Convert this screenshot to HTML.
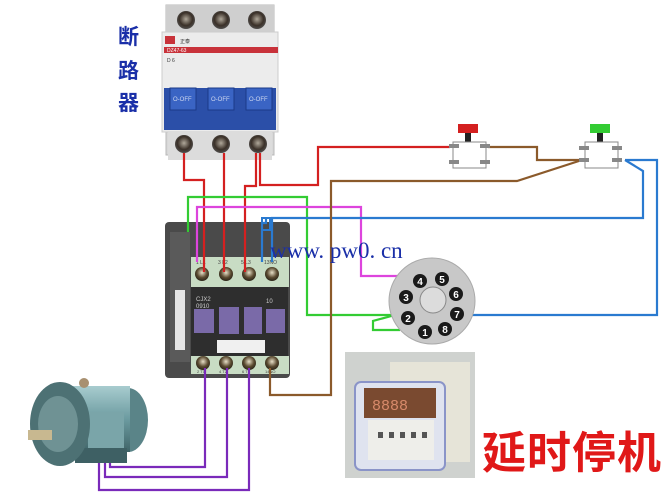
<!DOCTYPE html>
<html><head><meta charset="utf-8"><style>
html,body{margin:0;padding:0;background:#fff;}
svg{display:block;}
</style></head><body>
<svg width="670" height="502" viewBox="0 0 670 502" xmlns="http://www.w3.org/2000/svg">
<defs>
<radialGradient id="screw" cx="50%" cy="40%" r="60%"><stop offset="0" stop-color="#e8e0c8"/><stop offset="0.6" stop-color="#5a4a30"/><stop offset="1" stop-color="#2a2418"/></radialGradient>
<radialGradient id="bscrew" cx="50%" cy="45%" r="60%"><stop offset="0" stop-color="#b0a89a"/><stop offset="0.6" stop-color="#3a3028"/><stop offset="1" stop-color="#555"/></radialGradient>
<linearGradient id="motor" x1="0" y1="0" x2="0" y2="1"><stop offset="0" stop-color="#a8cccf"/><stop offset="0.5" stop-color="#6c9ba0"/><stop offset="1" stop-color="#3f6468"/></linearGradient>
</defs>

<g font-family="Liberation Sans, Noto Sans CJK SC, sans-serif" font-weight="bold" font-size="21" fill="#1a2fa8">
<text x="118" y="44">断</text><text x="118" y="78">路</text><text x="118" y="110">器</text>
</g>

<rect x="166" y="5" width="108" height="150" fill="#d8d8d8" stroke="#b8b8b8"/>
<rect x="166" y="5" width="108" height="28" fill="#cfcfcf"/>
<circle cx="186" cy="20" r="9" fill="url(#bscrew)"/><circle cx="221" cy="20" r="9" fill="url(#bscrew)"/><circle cx="257" cy="20" r="9" fill="url(#bscrew)"/>
<rect x="162" y="32" width="116" height="100" fill="#ececec" stroke="#ccc"/>
<rect x="164" y="47" width="114" height="6" fill="#c8323a"/>
<rect x="165" y="36" width="10" height="8" fill="#c8323a"/>
<text x="180" y="43" font-size="5" fill="#333" font-family="Liberation Sans, Noto Sans CJK SC, sans-serif">正泰</text>
<text x="167" y="52" font-size="5" fill="#fff" font-family="Liberation Sans, sans-serif">DZ47-63</text>
<text x="167" y="62" font-size="5" fill="#333" font-family="Liberation Sans, sans-serif">D 6</text>
<rect x="164" y="88" width="112" height="42" fill="#2b4fa8"/>
<rect x="170" y="88" width="26" height="22" fill="#3a64c4" stroke="#1b3a88"/>
<rect x="208" y="88" width="26" height="22" fill="#3a64c4" stroke="#1b3a88"/>
<rect x="246" y="88" width="26" height="22" fill="#3a64c4" stroke="#1b3a88"/>
<g font-size="6" fill="#cfd8f0" font-family="Liberation Sans, sans-serif"><text x="173" y="101">O-OFF</text><text x="211" y="101">O-OFF</text><text x="249" y="101">O-OFF</text></g>
<rect x="168" y="132" width="104" height="28" fill="#dcdcdc"/>
<circle cx="184" cy="144" r="9" fill="url(#bscrew)"/><circle cx="221" cy="144" r="9" fill="url(#bscrew)"/><circle cx="258" cy="144" r="9" fill="url(#bscrew)"/>

<rect x="165" y="222" width="125" height="156" rx="4" fill="#4a4a4a"/>
<rect x="170" y="232" width="20" height="130" fill="#5a5a5a"/>
<rect x="175" y="290" width="10" height="60" fill="#e8e8e8"/>
<rect x="191" y="257" width="98" height="30" fill="#c8dcc4"/>
<g font-size="5" fill="#444" font-family="Liberation Sans, sans-serif"><text x="196" y="264">1 L1</text><text x="218" y="264">3 L2</text><text x="241" y="264">5 L3</text><text x="264" y="264">13NO</text></g>
<circle cx="202" cy="274" r="7" fill="url(#screw)"/><circle cx="226" cy="274" r="7" fill="url(#screw)"/><circle cx="249" cy="274" r="7" fill="url(#screw)"/><circle cx="272" cy="274" r="7" fill="url(#screw)"/>
<rect x="191" y="287" width="97" height="69" fill="#2e2e2e"/>
<text x="196" y="301" font-size="6" fill="#ccc" font-family="Liberation Sans, sans-serif">CJX2</text>
<text x="196" y="308" font-size="6" fill="#ccc" font-family="Liberation Sans, sans-serif">0910</text>
<text x="266" y="303" font-size="6" fill="#ccc" font-family="Liberation Sans, sans-serif">10</text>
<rect x="194" y="309" width="20" height="24" fill="#7a6aa8"/>
<rect x="219" y="307" width="20" height="27" fill="#7a6aa8"/>
<rect x="244" y="307" width="18" height="27" fill="#7a6aa8"/>
<rect x="266" y="309" width="19" height="24" fill="#7a6aa8"/>
<rect x="217" y="340" width="48" height="13" fill="#f0f0f0"/>
<rect x="191" y="356" width="98" height="18" fill="#c8dcc4"/>
<circle cx="203" cy="363" r="7" fill="url(#screw)"/><circle cx="226" cy="363" r="7" fill="url(#screw)"/><circle cx="249" cy="363" r="7" fill="url(#screw)"/><circle cx="272" cy="363" r="7" fill="url(#screw)"/>
<g font-size="4" fill="#444" font-family="Liberation Sans, sans-serif"><text x="197" y="373">2 T1</text><text x="219" y="373">4 T2</text><text x="242" y="373">6 T3</text><text x="265" y="373">14NO</text></g>

<g fill="none" stroke-width="2.2">
<polyline stroke="#d42020" points="184,153 184,180 204,180 204,272"/>
<polyline stroke="#d42020" points="224,153 224,272"/>
<polyline stroke="#d42020" points="256,153 256,186 245,186 245,272"/>
<polyline stroke="#d42020" points="260,153 260,185 318,185 318,147 450,147"/>
<polyline stroke="#33cc33" points="188,232 188,197 307,197 307,315 395,315"/>
<polyline stroke="#33cc33" points="395,315 373,321 373,330 400,330"/>
<polyline stroke="#dd44dd" points="197,262 197,207 361,207 361,276 412,276"/>
<polyline stroke="#2a7ad0" points="262,262 262,223 266,223 266,218"/>
<polyline stroke="#2a7ad0" points="272,262 272,218 643,218 643,171 625,160"/>
<polyline stroke="#2a7ad0" points="625,160 657,160 657,315 465,315"/>
<polyline stroke="#8b5a2b" points="488,147 537,147 537,160 582,160"/>
<polyline stroke="#8b5a2b" points="582,160 517,181 331,181 331,395 270,395 270,368"/>
<polyline stroke="#7a2aba" points="205,368 205,467 110,467 110,452"/>
<polyline stroke="#7a2aba" points="227,368 227,477 105,477 105,452"/>
<polyline stroke="#7a2aba" points="249,368 249,490 99,490 99,452"/>
</g>
<rect x="262" y="218" width="8" height="12" fill="none" stroke="#2a7ad0" stroke-width="2"/>

<g>
<rect x="458" y="124" width="20" height="9" fill="#d42020"/>
<rect x="465" y="133" width="6" height="10" fill="#222"/>
<rect x="453" y="142" width="33" height="26" fill="#fff" stroke="#888"/>
<rect x="449" y="144" width="10" height="4" fill="#888"/><rect x="480" y="144" width="10" height="4" fill="#888"/>
<rect x="449" y="160" width="10" height="4" fill="#888"/><rect x="480" y="160" width="10" height="4" fill="#888"/>
<rect x="590" y="124" width="20" height="9" fill="#33cc33"/>
<rect x="597" y="133" width="6" height="10" fill="#222"/>
<rect x="585" y="142" width="33" height="26" fill="#fff" stroke="#888"/>
<rect x="579" y="146" width="10" height="4" fill="#888"/><rect x="612" y="146" width="10" height="4" fill="#888"/>
<rect x="579" y="158" width="10" height="4" fill="#888"/><rect x="612" y="158" width="10" height="4" fill="#888"/>
</g>

<text x="270" y="258" font-family="Liberation Serif, serif" font-size="23" fill="#1a2fa8">www. pw0. cn</text>

<circle cx="432" cy="301" r="43" fill="#c8c8c8" stroke="#aaa"/>
<circle cx="433" cy="300" r="13" fill="#dcdcdc" stroke="#888"/>
<g fill="#1a1a1a"><circle cx="420" cy="281" r="7"/><circle cx="442" cy="279" r="7"/><circle cx="406" cy="297" r="7"/><circle cx="456" cy="294" r="7"/><circle cx="408" cy="318" r="7"/><circle cx="457" cy="314" r="7"/><circle cx="425" cy="332" r="7"/><circle cx="445" cy="329" r="7"/></g>
<g fill="#fff" font-family="Liberation Sans, sans-serif" font-weight="bold" font-size="10" text-anchor="middle">
<text x="420" y="285">4</text><text x="442" y="283">5</text><text x="406" y="301">3</text><text x="456" y="298">6</text><text x="408" y="322">2</text><text x="457" y="318">7</text><text x="425" y="336">1</text><text x="445" y="333">8</text></g>

<rect x="345" y="352" width="130" height="126" fill="#cfd2cf"/>
<rect x="390" y="362" width="80" height="100" fill="#e6e4d8"/>
<rect x="355" y="382" width="90" height="88" rx="6" fill="#dfe3ef" stroke="#8a94c8" stroke-width="2"/>
<rect x="364" y="388" width="72" height="30" fill="#7a4a30"/>
<text x="372" y="410" font-family="Liberation Mono, monospace" font-size="15" fill="#d88a6a">8888</text>
<rect x="368" y="420" width="66" height="40" fill="#eeeeea"/>
<g fill="#555"><rect x="378" y="432" width="5" height="6"/><rect x="389" y="432" width="5" height="6"/><rect x="400" y="432" width="5" height="6"/><rect x="411" y="432" width="5" height="6"/><rect x="422" y="432" width="5" height="6"/></g>

<text x="482" y="468" font-family="Liberation Sans, Noto Sans CJK SC, sans-serif" font-weight="bold" font-size="44" letter-spacing="1" fill="#e01818">延时停机</text>

<ellipse cx="128" cy="420" rx="20" ry="32" fill="#5a8488"/>
<rect x="56" y="386" width="74" height="66" fill="url(#motor)"/>
<rect x="88" y="412" width="36" height="42" fill="#7aa5a9"/>
<rect x="75" y="448" width="52" height="15" fill="#3e6064"/>
<ellipse cx="60" cy="424" rx="30" ry="42" fill="#4d7174"/>
<ellipse cx="58" cy="424" rx="20" ry="28" fill="#6f9294"/>
<rect x="28" y="430" width="24" height="10" fill="#c8b890"/>
<circle cx="84" cy="383" r="5" fill="#a89070"/>
</svg>
</body></html>
